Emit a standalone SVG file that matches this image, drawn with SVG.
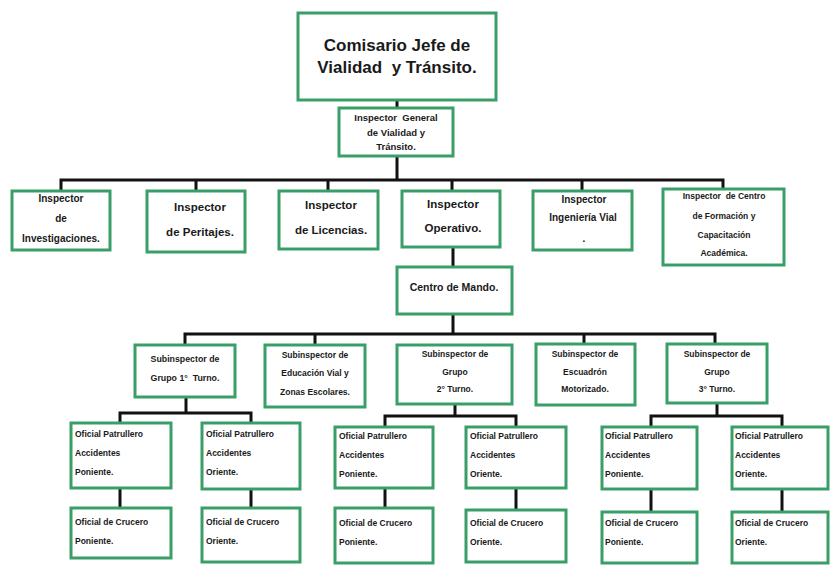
<svg xmlns="http://www.w3.org/2000/svg" width="830" height="567" viewBox="0 0 830 567">
<style>
.b{fill:#fff;stroke:#3a9e68;stroke-width:3}
.c{fill:none;stroke:#111;stroke-width:3}
text{font-family:"Liberation Sans",Arial,sans-serif;font-weight:bold;fill:#1a1a1a;white-space:pre}
.m{text-anchor:middle}
.s{font-size:8.5px}
</style>
<rect width="830" height="567" fill="#fff"/>
<g id="connectors">
<path class="c" d="M397 100V108M397 156V180M61 191V180H723V189M196 191V180M328 191V180M452 191V180M582 191V180"/>
<path class="c" d="M453 247V267M453 314V334M185 345V334H715V344M315 345V334M584 344V334"/>
<path class="c" d="M186 397V413M120 423V413H251V423M120 488V508M251 489V508"/>
<path class="c" d="M455 404V416M385 427V416H516V427M385 488V508M516 488V510"/>
<path class="c" d="M717 403V416M651 427V416H782V427M651 489V512M782 489V512"/>
</g>
<g id="comisario"><rect class="b" x="298" y="13" width="198" height="87"/>
<text class="m" x="397" y="51" font-size="17">Comisario Jefe de</text>
<text class="m" x="397" y="73" font-size="17">Vialidad  y Tránsito.</text></g>
<g id="ig"><rect class="b" x="339" y="108" width="114" height="48"/>
<text class="m" x="396" y="121" font-size="9.5">Inspector  General</text>
<text class="m" x="396" y="136" font-size="9.5">de Vialidad y</text>
<text class="m" x="396" y="150" font-size="9.5">Tránsito.</text></g>
<g id="investigaciones"><rect class="b" x="12" y="191" width="98" height="59"/>
<text class="m" x="61" y="202" font-size="10">Inspector</text>
<text class="m" x="61" y="222" font-size="10">de</text>
<text class="m" x="61" y="242" font-size="10">Investigaciones.</text></g>
<g id="peritajes"><rect class="b" x="147" y="191" width="98" height="61"/>
<text class="m" x="200" y="211" font-size="11.5">Inspector</text>
<text class="m" x="200" y="236" font-size="11.5">de Peritajes.</text></g>
<g id="licencias"><rect class="b" x="279" y="191" width="99" height="58"/>
<text class="m" x="331" y="209" font-size="11.5">Inspector</text>
<text class="m" x="331" y="234" font-size="11.5">de Licencias.</text></g>
<g id="operativo"><rect class="b" x="402" y="191" width="98" height="56"/>
<text class="m" x="453" y="208" font-size="11.5">Inspector</text>
<text class="m" x="453" y="232" font-size="11.5">Operativo.</text></g>
<g id="ingenieria"><rect class="b" x="533" y="191" width="99" height="59"/>
<text class="m" x="584" y="203" font-size="10">Inspector</text>
<text class="m" x="583" y="221" font-size="10">Ingeniería Vial</text>
<text class="m" x="584" y="242" font-size="10">.</text></g>
<g id="formacion"><rect class="b" x="663" y="189" width="121" height="76"/>
<text class="m s" x="724" y="199">Inspector  de Centro</text>
<text class="m s" x="724" y="219">de Formación y</text>
<text class="m s" x="724" y="238">Capacitación</text>
<text class="m s" x="724" y="256">Académica.</text></g>
<g id="mando"><rect class="b" x="397" y="267" width="115" height="47"/>
<text class="m" x="454" y="291" font-size="10.5">Centro de Mando.</text></g>
<g id="sub1"><rect class="b" x="135" y="345" width="100" height="52"/>
<text class="m" x="185" y="362" font-size="8.8">Subinspector de</text>
<text class="m" x="185" y="381" font-size="8.8">Grupo 1°  Turno.</text></g>
<g id="sub-educacion"><rect class="b" x="265" y="345" width="100" height="62"/>
<text class="m s" x="315" y="358">Subinspector de</text>
<text class="m s" x="315" y="376">Educación Vial y</text>
<text class="m s" x="315" y="395">Zonas Escolares.</text></g>
<g id="sub2"><rect class="b" x="397" y="345" width="115" height="59"/>
<text class="m s" x="455" y="357">Subinspector de</text>
<text class="m s" x="455" y="375">Grupo</text>
<text class="m s" x="455" y="392">2° Turno.</text></g>
<g id="sub-escuadron"><rect class="b" x="536" y="344" width="99" height="61"/>
<text class="m s" x="585" y="357">Subinspector de</text>
<text class="m s" x="585" y="375">Escuadrón</text>
<text class="m s" x="585" y="392">Motorizado.</text></g>
<g id="sub3"><rect class="b" x="667" y="344" width="100" height="59"/>
<text class="m s" x="717" y="357">Subinspector de</text>
<text class="m s" x="717" y="375">Grupo</text>
<text class="m s" x="717" y="392">3° Turno.</text></g>
<g id="op-pon-1"><rect class="b" x="71" y="423" width="100" height="65"/>
<text class="s" x="75" y="437">Oficial Patrullero</text>
<text class="s" x="75" y="456">Accidentes</text>
<text class="s" x="75" y="475">Poniente.</text></g>
<g id="op-ori-1"><rect class="b" x="202" y="423" width="98" height="66"/>
<text class="s" x="206" y="437">Oficial Patrullero</text>
<text class="s" x="206" y="456">Accidentes</text>
<text class="s" x="206" y="475">Oriente.</text></g>
<g id="oc-pon-1"><rect class="b" x="71" y="508" width="100" height="50"/>
<text class="s" x="75" y="525">Oficial de Crucero</text>
<text class="s" x="75" y="544">Poniente.</text></g>
<g id="oc-ori-1"><rect class="b" x="202" y="508" width="98" height="54"/>
<text class="s" x="206" y="525">Oficial de Crucero</text>
<text class="s" x="206" y="544">Oriente.</text></g>
<g id="op-pon-2"><rect class="b" x="335" y="427" width="98" height="61"/>
<text class="s" x="339" y="439">Oficial Patrullero</text>
<text class="s" x="339" y="458">Accidentes</text>
<text class="s" x="339" y="477">Poniente.</text></g>
<g id="op-ori-2"><rect class="b" x="466" y="427" width="100" height="61"/>
<text class="s" x="470" y="439">Oficial Patrullero</text>
<text class="s" x="470" y="458">Accidentes</text>
<text class="s" x="470" y="477">Oriente.</text></g>
<g id="oc-pon-2"><rect class="b" x="335" y="508" width="98" height="55"/>
<text class="s" x="339" y="526">Oficial de Crucero</text>
<text class="s" x="339" y="545">Poniente.</text></g>
<g id="oc-ori-2"><rect class="b" x="466" y="510" width="100" height="52"/>
<text class="s" x="470" y="526">Oficial de Crucero</text>
<text class="s" x="470" y="545">Oriente.</text></g>
<g id="op-pon-3"><rect class="b" x="602" y="427" width="95" height="62"/>
<text class="s" x="605" y="439">Oficial Patrullero</text>
<text class="s" x="605" y="458">Accidentes</text>
<text class="s" x="605" y="477">Poniente.</text></g>
<g id="op-ori-3"><rect class="b" x="732" y="427" width="96" height="62"/>
<text class="s" x="735" y="439">Oficial Patrullero</text>
<text class="s" x="735" y="458">Accidentes</text>
<text class="s" x="735" y="477">Oriente.</text></g>
<g id="oc-pon-3"><rect class="b" x="602" y="512" width="95" height="51"/>
<text class="s" x="605" y="526">Oficial de Crucero</text>
<text class="s" x="605" y="545">Poniente.</text></g>
<g id="oc-ori-3"><rect class="b" x="732" y="512" width="96" height="51"/>
<text class="s" x="735" y="526">Oficial de Crucero</text>
<text class="s" x="735" y="545">Oriente.</text></g>
</svg>
